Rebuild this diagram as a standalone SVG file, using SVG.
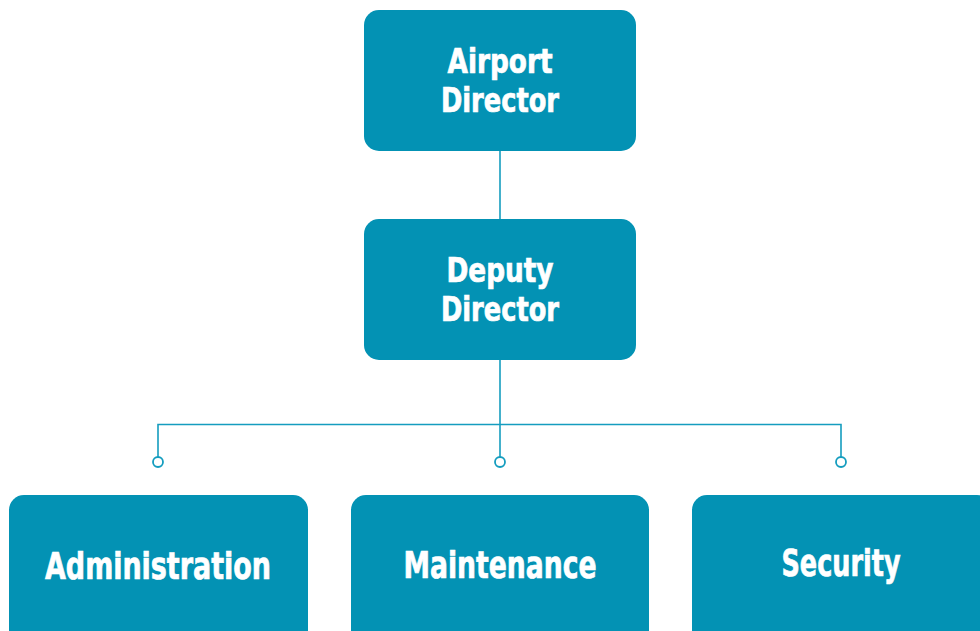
<svg xmlns="http://www.w3.org/2000/svg" width="980" height="631" viewBox="0 0 980 631">
  <style>
    .box { fill: #0392b4; }
    .lbl { fill: #ffffff; stroke: #ffffff; stroke-width: 0.7; font-family: "Liberation Sans Narrow", "DejaVu Sans Condensed", "Liberation Sans", sans-serif; font-weight: bold; text-anchor: middle; }
    .top { font-size: 34px; }
    .big { font-size: 38px; }
    .wire { fill: none; stroke: #159dbf; stroke-width: 1.6; }
    .dot { fill: #ffffff; stroke: #159dbf; stroke-width: 1.8; }
  </style>
  <rect width="980" height="631" fill="#ffffff"/>

  <g id="connectors">
    <line class="wire" x1="500" y1="151" x2="500" y2="219"/>
    <line class="wire" x1="500" y1="360" x2="500" y2="457"/>
    <polyline class="wire" points="158,457 158,424.5 841,424.5 841,457"/>
    <circle class="dot" cx="158" cy="462" r="5"/>
    <circle class="dot" cx="500" cy="462" r="5"/>
    <circle class="dot" cx="841" cy="462" r="5"/>
  </g>

  <g id="airport-director">
    <rect class="box" x="364" y="10" width="272" height="141" rx="15"/>
    <text class="lbl top" x="500" y="73" textLength="105" lengthAdjust="spacingAndGlyphs">Airport</text>
    <text class="lbl top" x="500" y="112" textLength="118" lengthAdjust="spacingAndGlyphs">Director</text>
  </g>

  <g id="deputy-director">
    <rect class="box" x="364" y="219" width="272" height="141" rx="15"/>
    <text class="lbl top" x="500" y="282" textLength="107" lengthAdjust="spacingAndGlyphs">Deputy</text>
    <text class="lbl top" x="500" y="321" textLength="118" lengthAdjust="spacingAndGlyphs">Director</text>
  </g>

  <g id="administration">
    <rect class="box" x="9" y="495" width="299" height="160" rx="15"/>
    <text class="lbl big" x="158" y="579" textLength="226" lengthAdjust="spacingAndGlyphs">Administration</text>
  </g>

  <g id="maintenance">
    <rect class="box" x="351" y="495" width="298" height="160" rx="15"/>
    <text class="lbl big" x="500" y="578" textLength="193" lengthAdjust="spacingAndGlyphs">Maintenance</text>
  </g>

  <g id="security">
    <rect class="box" x="692" y="495" width="300" height="160" rx="15"/>
    <text class="lbl big" x="841" y="576" textLength="119" lengthAdjust="spacingAndGlyphs">Security</text>
  </g>
</svg>
